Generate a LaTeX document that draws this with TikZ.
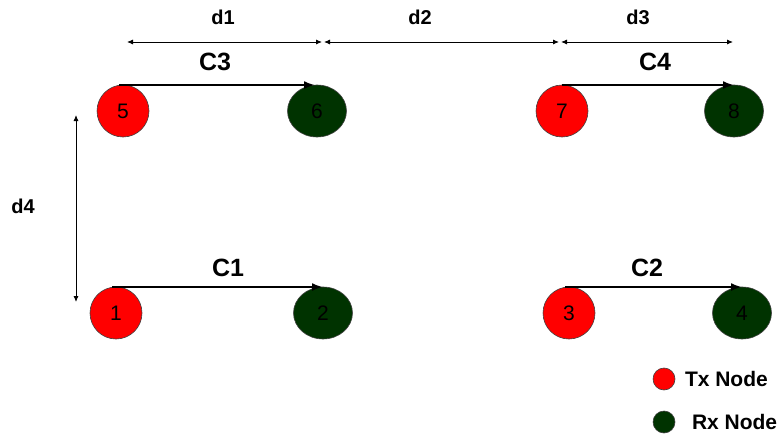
\documentclass[tikz,border=0pt]{standalone}
\usepackage{fontspec}
\setmainfont{Liberation Sans}
\usetikzlibrary{shapes.geometric, arrows.meta}

\begin{document}
\begin{tikzpicture}[
  x=1pt, y=-1pt,
  every node/.style={inner sep=0pt, outer sep=0pt},
  txnode/.style={ellipse, fill=TxRed, draw=NodeRim, line width=0.6pt,
    minimum width=52pt, minimum height=52pt, font={\fontsize{21}{24}\selectfont}},
  rxnode/.style={ellipse, fill=RxGreen, draw=NodeRim, line width=0.6pt,
    minimum width=59pt, minimum height=52pt, font={\fontsize{21}{24}\selectfont}},
  linkarrow/.style={-{Latex[length=11pt, width=8pt]}, line width=2.8pt},
  dimline/.style={{Latex[length=6pt, width=5pt]}-{Latex[length=6pt, width=5pt]}, line width=0.9pt},
  chlabel/.style={font={\fontsize{25}{28}\selectfont\bfseries}},
  dimlabel/.style={font={\fontsize{20}{24}\selectfont\bfseries}},
  legtext/.style={anchor=west, font={\fontsize{21}{24}\selectfont\bfseries}},
]

% ── colors ──
\definecolor{TxRed}{HTML}{FF0000}
\definecolor{RxGreen}{HTML}{003300}
\definecolor{NodeRim}{HTML}{404040}

\useasboundingbox (0,0) rectangle (779,436);

% ── nodes ──
\node[txnode] (n5) at (123,111) {5};
\node[rxnode] (n6) at (317,111) {6};
\node[txnode] (n7) at (562,111) {7};
\node[rxnode] (n8) at (734,111) {8};
\node[txnode] (n1) at (116,313) {1};
\node[rxnode] (n2) at (323,313) {2};
\node[txnode] (n3) at (569,313) {3};
\node[rxnode] (n4) at (742,313) {4};

% ── links ──
\draw[linkarrow] ([xshift=-4pt]n5.north) -- ([xshift=-2pt]n6.north);
\draw[linkarrow] (n7.north) -- (n8.north);
\draw[linkarrow] ([xshift=-4pt]n1.north) -- (n2.north);
\draw[linkarrow] ([xshift=-4pt]n3.north) -- (n4.north);
\node[chlabel] (c3) at (215,62) {C3};
\node[chlabel] (c4) at (655,62) {C4};
\node[chlabel] (c1) at (228,268) {C1};
\node[chlabel] (c2) at (647,268) {C2};

% ── distances ──
\coordinate (dA) at (127,42);
\coordinate (dB) at (322,42);
\coordinate (dC) at (324,42);
\coordinate (dD) at (559,42);
\coordinate (dE) at (561,42);
\coordinate (dF) at (733,42);
\coordinate (dG) at (76,115);
\coordinate (dH) at (76,302);
\draw[dimline] (dA) -- (dB);
\draw[dimline] (dC) -- (dD);
\draw[dimline] (dE) -- (dF);
\draw[dimline] (dG) -- (dH);
\node[dimlabel] (d1) at (223,17) {d1};
\node[dimlabel] (d2) at (420,17) {d2};
\node[dimlabel] (d3) at (638,17) {d3};
\node[dimlabel] (d4) at (23,206) {d4};

% ── legend ──
\node[circle, fill=TxRed, draw=NodeRim, line width=0.6pt, minimum size=22pt] (legtx) at (664,379) {};
\node[circle, fill=RxGreen, draw=NodeRim, line width=0.6pt, minimum size=22pt] (legrx) at (664,422) {};
\node[legtext] (legtxt) at (685,379) {Tx Node};
\node[legtext] (legrxt) at (692,422) {Rx Node};

\end{tikzpicture}
\end{document}
